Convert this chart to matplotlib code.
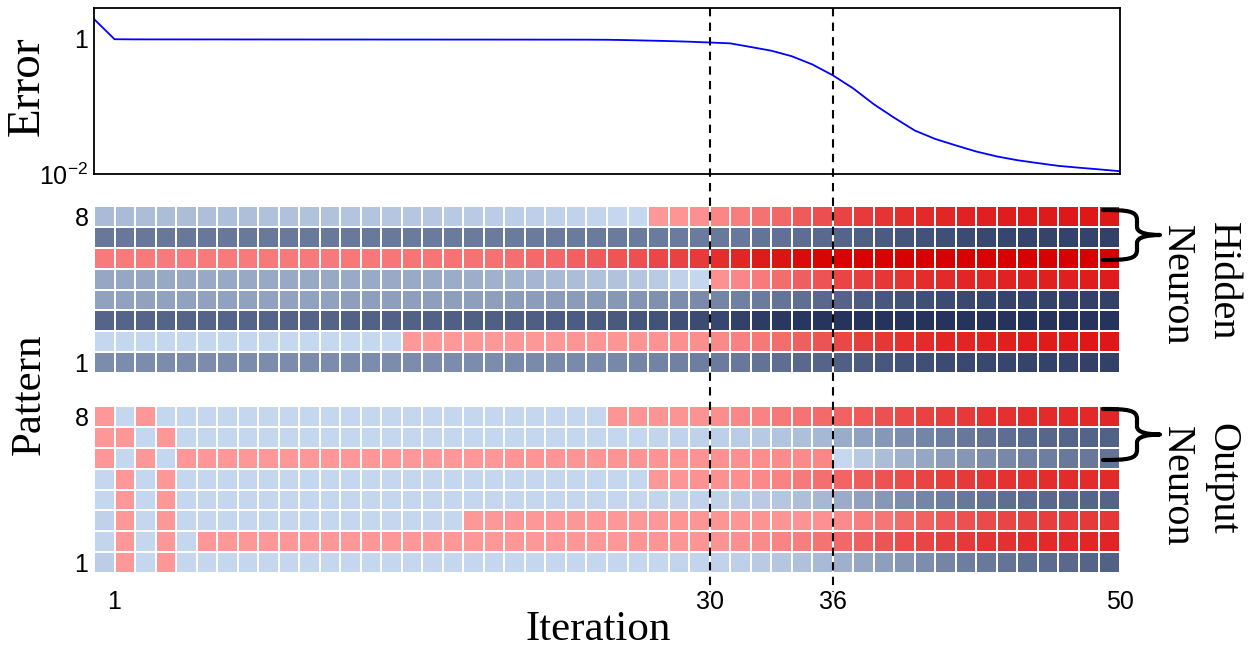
import numpy as np
import matplotlib
matplotlib.use('Agg')
import matplotlib.pyplot as plt
from matplotlib.colors import LinearSegmentedColormap, Normalize
from matplotlib.lines import Line2D
from matplotlib.path import Path
from matplotlib.patches import PathPatch
import matplotlib.transforms as mtransforms

plt.rcParams['font.family'] = 'Liberation Sans'
plt.rcParams['mathtext.fontset'] = 'custom'
plt.rcParams['mathtext.rm'] = 'Liberation Sans'
plt.rcParams['mathtext.default'] = 'regular'

# ---- data -------------------------------------------------------------
# error after each iteration (iteration 0 .. 50)
error = [1.97, 0.99, 0.985, 0.984, 0.984, 0.983, 0.983, 0.982, 0.982, 0.981,
         0.981, 0.980, 0.980, 0.980, 0.979, 0.979, 0.979, 0.978, 0.978, 0.978,
         0.977, 0.977, 0.976, 0.976, 0.975, 0.972, 0.96, 0.945, 0.93, 0.91,
         0.885, 0.86, 0.76, 0.67, 0.555, 0.42, 0.29, 0.185, 0.108, 0.068,
         0.044, 0.033, 0.0265, 0.0215, 0.0182, 0.016, 0.0145, 0.0132, 0.0124, 0.0117,
         0.011]
marked_iters = [30, 36]
xtick_iters = [1, 30, 36, 50]

# signed activations, > 0 drawn red, < 0 drawn blue; pattern 1 .. 8
hidden = [
    [-0.46, -0.46, -0.46, -0.46, -0.46, -0.46, -0.46, -0.46, -0.46, -0.46,
     -0.46, -0.46, -0.46, -0.46, -0.46, -0.46, -0.46, -0.46, -0.46, -0.46,
     -0.47, -0.47, -0.47, -0.47, -0.47, -0.48, -0.50, -0.51, -0.52, -0.54,
     -0.56, -0.58, -0.61, -0.64, -0.67, -0.69, -0.72, -0.75, -0.77, -0.80,
     -0.82, -0.84, -0.85, -0.86, -0.87, -0.88, -0.89, -0.89, -0.90, -0.90],
    [-0.02, -0.02, -0.02, -0.02, -0.02, -0.02, -0.02, -0.02, -0.02, -0.01,
     -0.01, -0.01, -0.01, -0.01, -0.01, 0.01, 0.01, 0.01, 0.02, 0.02,
     0.02, 0.02, 0.02, 0.03, 0.03, 0.03, 0.04, 0.05, 0.07, 0.08,
     0.11, 0.16, 0.22, 0.29, 0.38, 0.46, 0.54, 0.60, 0.65, 0.69,
     0.72, 0.75, 0.76, 0.78, 0.80, 0.81, 0.82, 0.83, 0.84, 0.84],
    [-0.69, -0.69, -0.69, -0.69, -0.69, -0.69, -0.69, -0.69, -0.69, -0.70,
     -0.70, -0.70, -0.71, -0.71, -0.71, -0.71, -0.71, -0.72, -0.72, -0.72,
     -0.73, -0.73, -0.74, -0.74, -0.75, -0.76, -0.78, -0.80, -0.82, -0.84,
     -0.87, -0.90, -0.93, -0.95, -0.96, -0.97, -0.98, -0.98, -0.98, -0.98,
     -0.98, -0.98, -0.98, -0.98, -0.98, -0.98, -0.98, -0.98, -0.98, -0.98],
    [-0.33, -0.33, -0.33, -0.33, -0.33, -0.33, -0.33, -0.33, -0.33, -0.33,
     -0.33, -0.33, -0.35, -0.35, -0.35, -0.35, -0.35, -0.35, -0.35, -0.35,
     -0.36, -0.36, -0.37, -0.37, -0.38, -0.39, -0.41, -0.43, -0.45, -0.47,
     -0.50, -0.53, -0.56, -0.60, -0.63, -0.67, -0.70, -0.74, -0.77, -0.80,
     -0.82, -0.84, -0.85, -0.87, -0.88, -0.89, -0.89, -0.90, -0.90, -0.90],
    [-0.30, -0.30, -0.30, -0.29, -0.29, -0.29, -0.29, -0.29, -0.29, -0.29,
     -0.29, -0.29, -0.28, -0.28, -0.28, -0.28, -0.28, -0.27, -0.26, -0.24,
     -0.23, -0.21, -0.19, -0.17, -0.15, -0.14, -0.12, -0.09, -0.05, -0.02,
     0.06, 0.12, 0.20, 0.29, 0.38, 0.46, 0.55, 0.60, 0.65, 0.67,
     0.71, 0.73, 0.75, 0.76, 0.78, 0.79, 0.80, 0.80, 0.81, 0.82],
    [0.20, 0.20, 0.20, 0.20, 0.20, 0.20, 0.20, 0.20, 0.21, 0.21,
     0.21, 0.21, 0.22, 0.22, 0.23, 0.24, 0.24, 0.25, 0.25, 0.26,
     0.28, 0.31, 0.33, 0.37, 0.41, 0.44, 0.48, 0.53, 0.57, 0.62,
     0.70, 0.75, 0.82, 0.87, 0.93, 0.97, 0.98, 0.99, 0.99, 1.00,
     1.00, 1.00, 1.00, 1.00, 1.00, 1.00, 1.00, 1.00, 1.00, 1.00],
    [-0.58, -0.58, -0.58, -0.58, -0.58, -0.58, -0.58, -0.57, -0.57, -0.57,
     -0.57, -0.57, -0.57, -0.57, -0.57, -0.56, -0.56, -0.56, -0.56, -0.56,
     -0.56, -0.56, -0.56, -0.56, -0.56, -0.56, -0.56, -0.56, -0.56, -0.56,
     -0.57, -0.58, -0.60, -0.62, -0.64, -0.66, -0.69, -0.72, -0.75, -0.78,
     -0.80, -0.82, -0.84, -0.86, -0.87, -0.88, -0.88, -0.89, -0.89, -0.90],
    [-0.18, -0.18, -0.17, -0.17, -0.17, -0.16, -0.16, -0.16, -0.15, -0.15,
     -0.14, -0.14, -0.13, -0.13, -0.12, -0.12, -0.11, -0.10, -0.09, -0.08,
     -0.07, -0.06, -0.05, -0.04, -0.03, -0.02, -0.01, 0.02, 0.03, 0.07,
     0.13, 0.19, 0.26, 0.33, 0.41, 0.49, 0.56, 0.62, 0.66, 0.70,
     0.73, 0.75, 0.78, 0.80, 0.81, 0.82, 0.83, 0.84, 0.84, 0.85],
]

output = [
    [-0.07, 0.02, -0.02, 0.02, -0.02, -0.02, -0.02, -0.02, -0.02, -0.02,
     -0.02, -0.02, -0.02, -0.02, -0.02, -0.02, -0.02, -0.02, -0.02, -0.02,
     -0.02, -0.02, -0.02, -0.02, -0.02, -0.02, -0.02, -0.02, -0.03, -0.03,
     -0.04, -0.06, -0.09, -0.12, -0.15, -0.19, -0.25, -0.30, -0.35, -0.40,
     -0.45, -0.50, -0.54, -0.57, -0.60, -0.63, -0.65, -0.67, -0.69, -0.71],
    [-0.03, 0.02, -0.02, 0.02, -0.02, 0.02, 0.02, 0.02, 0.02, 0.02,
     0.02, 0.02, 0.02, 0.02, 0.02, 0.02, 0.02, 0.02, 0.02, 0.02,
     0.02, 0.02, 0.02, 0.02, 0.02, 0.02, 0.03, 0.03, 0.03, 0.03,
     0.04, 0.07, 0.10, 0.14, 0.18, 0.25, 0.33, 0.39, 0.45, 0.51,
     0.55, 0.60, 0.63, 0.67, 0.69, 0.71, 0.73, 0.74, 0.75, 0.76],
    [-0.05, 0.02, -0.02, 0.02, -0.02, -0.02, -0.02, -0.02, -0.02, -0.02,
     -0.02, -0.02, -0.02, -0.02, -0.02, -0.02, -0.02, -0.02, 0.02, 0.02,
     0.02, 0.02, 0.02, 0.02, 0.02, 0.02, 0.02, 0.02, 0.03, 0.03,
     0.03, 0.03, 0.04, 0.04, 0.05, 0.06, 0.10, 0.18, 0.24, 0.31,
     0.37, 0.43, 0.48, 0.52, 0.55, 0.58, 0.60, 0.62, 0.63, 0.64],
    [-0.02, 0.02, -0.02, 0.02, -0.02, -0.02, -0.02, -0.02, -0.02, -0.02,
     -0.02, -0.02, -0.02, -0.02, -0.02, -0.02, -0.02, -0.02, -0.02, -0.02,
     -0.02, -0.02, -0.02, -0.02, -0.02, -0.02, -0.02, -0.03, -0.03, -0.04,
     -0.05, -0.07, -0.09, -0.12, -0.16, -0.20, -0.27, -0.33, -0.39, -0.45,
     -0.50, -0.54, -0.58, -0.61, -0.63, -0.65, -0.67, -0.68, -0.69, -0.70],
    [-0.02, 0.02, -0.02, 0.02, -0.02, -0.02, -0.02, -0.02, -0.02, -0.02,
     -0.02, -0.02, -0.02, -0.02, -0.02, -0.02, -0.02, -0.02, -0.02, -0.02,
     -0.02, -0.02, -0.02, -0.02, -0.02, -0.02, -0.02, 0.02, 0.03, 0.05,
     0.06, 0.08, 0.11, 0.15, 0.21, 0.27, 0.34, 0.40, 0.46, 0.51,
     0.56, 0.60, 0.63, 0.66, 0.68, 0.69, 0.71, 0.72, 0.72, 0.73],
    [0.02, -0.02, 0.02, -0.02, 0.02, 0.02, 0.02, 0.02, 0.02, 0.02,
     0.02, 0.02, 0.02, 0.02, 0.02, 0.02, 0.02, 0.02, 0.02, 0.02,
     0.03, 0.03, 0.03, 0.03, 0.03, 0.04, 0.04, 0.04, 0.04, 0.05,
     0.06, 0.07, 0.08, 0.09, 0.10, 0.12, -0.01, -0.10, -0.17, -0.24,
     -0.30, -0.36, -0.40, -0.45, -0.48, -0.52, -0.54, -0.57, -0.58, -0.60],
    [0.02, 0.02, -0.02, 0.02, -0.02, -0.02, -0.02, -0.02, -0.02, -0.02,
     -0.02, -0.02, -0.02, -0.02, -0.02, -0.02, -0.02, -0.02, -0.02, -0.02,
     -0.02, -0.02, -0.02, -0.02, -0.02, -0.02, -0.02, -0.03, -0.04, -0.05,
     -0.06, -0.08, -0.10, -0.13, -0.16, -0.20, -0.27, -0.33, -0.39, -0.45,
     -0.50, -0.54, -0.58, -0.61, -0.64, -0.66, -0.68, -0.69, -0.70, -0.71],
    [0.02, -0.02, 0.02, -0.02, -0.02, -0.02, -0.02, -0.02, -0.02, -0.02,
     -0.02, -0.02, -0.02, -0.02, -0.02, -0.02, -0.02, -0.02, -0.02, -0.02,
     -0.02, -0.02, -0.02, -0.02, -0.02, 0.03, 0.03, 0.04, 0.04, 0.05,
     0.08, 0.12, 0.15, 0.22, 0.25, 0.31, 0.36, 0.42, 0.48, 0.52,
     0.57, 0.60, 0.63, 0.67, 0.69, 0.71, 0.72, 0.73, 0.74, 0.75],
]

# ---- colormap: blue for negative, red for positive, jump at zero ------
def hx(c):
    return tuple(int(c[i:i + 2], 16) / 255 for i in (1, 3, 5))

nd, nl, pl, pd_ = hx('#22305a'), hx('#c8daf2'), hx('#ff9a9a'), hx('#d80000')
cdict = {ch: [(0.0, nd[i], nd[i]), (0.5, nl[i], pl[i]), (1.0, pd_[i], pd_[i])]
         for i, ch in enumerate(('red', 'green', 'blue'))}
cmap = LinearSegmentedColormap('act', cdict, N=1024)
norm = Normalize(vmin=-1, vmax=1)

W, H = 1248, 649
fig = plt.figure(figsize=(W / 100, H / 100), dpi=100)


def px_axes(x0, y0, x1, y1):
    # pixel box (y down) -> figure axes
    return fig.add_axes([x0 / W, 1 - y1 / H, (x1 - x0) / W, (y1 - y0) / H])


serif = 'Liberation Serif'
n_it = len(hidden[0])

# ---- error plot ----
ax_err = px_axes(94, 8, 1120, 174)
ax_err.semilogy(np.arange(len(error)), error, color='#0000ff', lw=1.3)
ax_err.set_xlim(0, n_it)
ax_err.set_ylim(0.01, 2.87)
ax_err.set_xticks([])
ax_err.set_yticks([0.01, 1])
ax_err.set_yticklabels(['$10^{-2}$', '1'], fontsize=18)
ax_err.yaxis.set_minor_locator(matplotlib.ticker.NullLocator())
ax_err.tick_params(axis='y', length=0, pad=4)
for s in ax_err.spines.values():
    s.set_linewidth(1.3)


def heat(ax, rows):
    data = np.array(rows)
    ax.pcolormesh(np.arange(data.shape[1] + 1), np.arange(data.shape[0] + 1), data,
                  cmap=cmap, norm=norm, edgecolor='white', linewidth=1.2)
    ax.set_xlim(0, data.shape[1])
    ax.set_ylim(0, data.shape[0])
    for s in ax.spines.values():
        s.set_visible(False)
    ax.set_yticks([0.5, data.shape[0] - 0.5])
    ax.set_yticklabels(['1', str(data.shape[0])], fontsize=18)
    ax.tick_params(length=0, pad=4)
    ax.set_xticks([])


ax_hid = px_axes(94, 206, 1120, 373)
heat(ax_hid, hidden)
ax_out = px_axes(94, 406, 1120, 573)
heat(ax_out, output)
ax_out.set_xticks(xtick_iters)
ax_out.set_xticklabels([str(v) for v in xtick_iters], fontsize=18)
ax_out.tick_params(axis='x', length=0, pad=12)

# dashed markers running through all panels
trans = mtransforms.blended_transform_factory(ax_err.transData, fig.transFigure)
for it in marked_iters:
    fig.add_artist(Line2D([it, it], [1 - 8 / H, 1 - 592 / H], transform=trans,
                          color='black', lw=1.5, linestyle=(0, (4, 3))))

# labels
fig.text(27 / W, 1 - 86 / H, 'Error', rotation=90, ha='center', va='center',
         fontsize=34, family=serif)
fig.text(30 / W, 1 - 394 / H, 'Pattern', rotation=90, ha='center', va='center',
         fontsize=31, family=serif)
fig.text(598 / W, 1 - 630 / H, 'Iteration', ha='center', va='center',
         fontsize=31, family=serif)


def brace(yt, yb):
    x0, xm, xt = 1103, 1137, 1160
    ym = (yt + yb) / 2
    pts = [(x0, yt), (1128, yt), (xm, yt + 1), (xm, yt + 10),
           (xm, ym - 8),
           (xm, ym - 2), (1148, ym), (xt, ym),
           (1148, ym), (xm, ym + 2), (xm, ym + 8),
           (xm, yb - 10),
           (xm, yb - 1), (1128, yb), (x0, yb)]
    codes = [Path.MOVETO, Path.CURVE4, Path.CURVE4, Path.CURVE4, Path.LINETO,
             Path.CURVE4, Path.CURVE4, Path.CURVE4, Path.CURVE4, Path.CURVE4, Path.CURVE4,
             Path.LINETO, Path.CURVE4, Path.CURVE4, Path.CURVE4]
    verts = [(x / W, 1 - y / H) for x, y in pts]
    fig.add_artist(PathPatch(Path(verts, codes), transform=fig.transFigure,
                             fill=False, lw=3, edgecolor='black',
                             capstyle='round', joinstyle='round'))


brace(210, 260)
brace(409, 460)
for y0, word in [(222, 'Hidden'), (423, 'Output')]:
    fig.text(1222 / W, 1 - y0 / H, word, rotation=-90, rotation_mode='anchor',
             ha='left', va='center', fontsize=29, family=serif)
    fig.text(1176 / W, 1 - (y0 + 3) / H, 'Neuron', rotation=-90, rotation_mode='anchor',
             ha='left', va='center', fontsize=29, family=serif)

fig.savefig('out.png', dpi=100)
